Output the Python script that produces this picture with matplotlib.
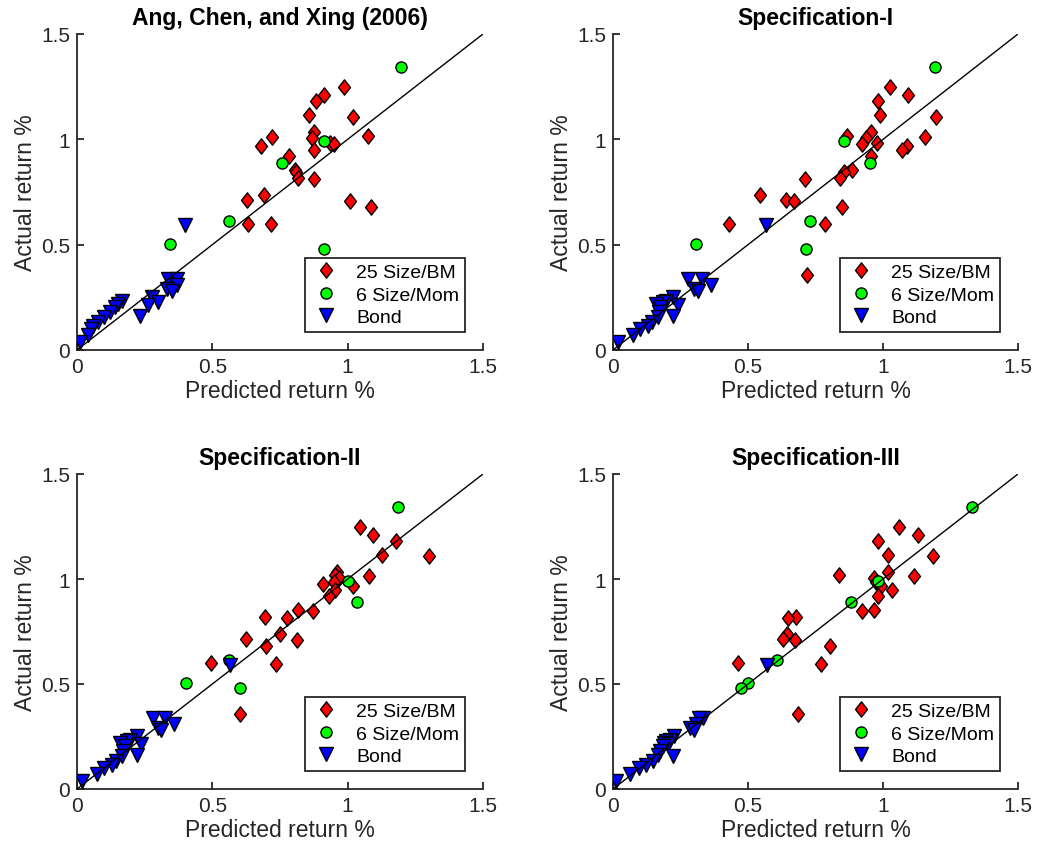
import matplotlib
matplotlib.use("Agg")
import matplotlib.pyplot as plt
from matplotlib.path import Path

plt.rcParams['font.family'] = ['Liberation Sans', 'DejaVu Sans']

# ---------------- data ----------------
TITLES = ["Ang, Chen, and Xing (2006)", "Specification-I", "Specification-II", "Specification-III"]
SERIES_LABELS = ["25 Size/BM", "6 Size/Mom", "Bond"]
XLABEL = "Predicted return %"
YLABEL = "Actual return %"
TICKS = [0, 0.5, 1, 1.5]
TICK_LABELS = ["0", "0.5", "1", "1.5"]

# actual returns (same in every panel)
ACT_BM = [1.248, 1.211, 1.183, 1.116, 1.108, 1.033, 1.017, 1.013, 1.005, 0.984, 0.976, 0.968, 0.949,
          0.920, 0.854, 0.846, 0.817, 0.814, 0.738, 0.714, 0.708, 0.679, 0.599, 0.596, 0.355]
ACT_MOM = [1.342, 0.992, 0.890, 0.612, 0.504, 0.480]
ACT_BOND = [0.592, 0.338, 0.336, 0.309, 0.290, 0.282, 0.251, 0.234, 0.227, 0.219, 0.213, 0.203,
            0.180, 0.160, 0.156, 0.132, 0.116, 0.098, 0.070, 0.036]

# predicted returns per panel
PRED_BM_ACX = [0.988, 0.911, 0.883, 0.856, 1.019, 0.877, 1.074, 0.720, 0.868, 0.933, 0.951, 0.680, 0.877,
               0.785, 0.804, 0.808, 0.816, 0.877, 0.691, 0.627, 1.010, 1.088, 0.633, 0.716, 1.050]
PRED_BM_S1 = [1.026, 1.091, 0.980, 0.989, 1.195, 0.956, 0.868, 1.156, 0.936, 0.977, 0.921, 1.090, 1.072,
              0.956, 0.884, 0.857, 0.841, 0.711, 0.546, 0.639, 0.670, 0.847, 0.429, 0.785, 0.719]
PRED_BM_S2 = [1.046, 1.095, 1.177, 1.126, 1.300, 0.960, 0.955, 1.080, 0.967, 0.950, 0.910, 1.021, 0.954,
              0.932, 0.817, 0.873, 0.693, 0.775, 0.750, 0.623, 0.812, 0.700, 0.495, 0.734, 0.604]
PRED_BM_S3 = [1.061, 1.131, 0.981, 1.017, 1.187, 1.020, 0.836, 1.116, 0.968, 0.975, 0.985, 0.993, 1.035,
              0.980, 0.968, 0.923, 0.677, 0.649, 0.645, 0.630, 0.674, 0.803, 0.464, 0.770, 0.684]

PRED_MOM_ACX = [1.198, 0.914, 0.759, 0.562, 0.343, 0.914]
PRED_MOM_S1 = [1.193, 0.857, 0.952, 0.729, 0.309, 0.714]
PRED_MOM_S2 = [1.186, 1.000, 1.033, 0.563, 0.403, 0.601]
PRED_MOM_S3 = [1.329, 0.983, 0.880, 0.606, 0.501, 0.473]

PRED_BOND_ACX = [0.400, 0.338, 0.369, 0.369, 0.332, 0.351, 0.277, 0.165, 0.299, 0.152, 0.264, 0.141,
                 0.122, 0.233, 0.098, 0.079, 0.060, 0.050, 0.042, 0.011]
PRED_BOND_S1 = [0.565, 0.278, 0.328, 0.362, 0.301, 0.313, 0.223, 0.198, 0.185, 0.161, 0.239, 0.175,
                0.170, 0.223, 0.167, 0.145, 0.130, 0.099, 0.074, 0.019]
PRED_BOND_S2 = [0.567, 0.280, 0.325, 0.360, 0.300, 0.312, 0.222, 0.196, 0.185, 0.160, 0.238, 0.176,
                0.170, 0.222, 0.166, 0.145, 0.128, 0.098, 0.073, 0.018]
PRED_BOND_S3 = [0.571, 0.334, 0.320, 0.309, 0.284, 0.300, 0.225, 0.210, 0.198, 0.190, 0.205, 0.185,
                0.175, 0.167, 0.223, 0.148, 0.124, 0.097, 0.062, 0.012]

PRED_BM = [PRED_BM_ACX, PRED_BM_S1, PRED_BM_S2, PRED_BM_S3]
PRED_MOM = [PRED_MOM_ACX, PRED_MOM_S1, PRED_MOM_S2, PRED_MOM_S3]
PRED_BOND = [PRED_BOND_ACX, PRED_BOND_S1, PRED_BOND_S2, PRED_BOND_S3]

# ---------------- style ----------------
W, H = 1038, 854
DPI = 100
AX_GRAY = '#262626'
diamond = Path([(0, 1), (0.78, 0), (0, -1), (-0.78, 0), (0, 1)],
               [Path.MOVETO, Path.LINETO, Path.LINETO, Path.LINETO, Path.CLOSEPOLY])

fig = plt.figure(figsize=(W / DPI, H / DPI), dpi=DPI)
# axes rectangles in pixels: left, top, right, bottom
RECTS = [(77, 35, 483, 351), (613, 35, 1018, 351), (77, 475, 483, 790), (613, 475, 1018, 790)]

for i, (l, t, r, b) in enumerate(RECTS):
    ax = fig.add_axes([l / W, 1 - b / H, (r - l) / W, (b - t) / H])
    ax.plot(PRED_BM[i], ACT_BM, linestyle='none', marker=diamond, markersize=11,
            markerfacecolor='#FF0000', markeredgecolor='black', markeredgewidth=1.0,
            label=SERIES_LABELS[0], zorder=2)
    ax.plot(PRED_MOM[i], ACT_MOM, linestyle='none', marker='o', markersize=8,
            markerfacecolor='#00FF00', markeredgecolor='black', markeredgewidth=1.0,
            label=SERIES_LABELS[1], zorder=3)
    ax.plot(PRED_BOND[i], ACT_BOND, linestyle='none', marker='v', markersize=9.5,
            markerfacecolor='#0000FF', markeredgecolor='black', markeredgewidth=1.0,
            label=SERIES_LABELS[2], zorder=4)
    ax.plot([TICKS[0], TICKS[-1]], [TICKS[0], TICKS[-1]], color='black', linewidth=1.0, zorder=5)

    ax.set_xlim(TICKS[0], TICKS[-1])
    ax.set_ylim(TICKS[0], TICKS[-1])
    ax.set_xticks(TICKS)
    ax.set_xticklabels(TICK_LABELS)
    ax.set_yticks(TICKS)
    ax.set_yticklabels(TICK_LABELS)
    for s in ['top', 'right']:
        ax.spines[s].set_visible(False)
    for s in ['left', 'bottom']:
        ax.spines[s].set_color(AX_GRAY)
        ax.spines[s].set_linewidth(1.3)
    ax.tick_params(direction='in', length=5, width=1.3, color=AX_GRAY, labelcolor=AX_GRAY,
                   labelsize=15, pad=5)
    ax.set_xlabel(XLABEL, fontsize=16.5, color=AX_GRAY, labelpad=2)
    ax.set_ylabel(YLABEL, fontsize=16.5, color=AX_GRAY, labelpad=3)
    ax.set_title(TITLES[i], fontsize=16.5, fontweight='bold', color='black', pad=7)
    leg = ax.legend(loc='lower right', bbox_to_anchor=(0.956, 0.057), fontsize=14,
                    frameon=True, fancybox=False, framealpha=1, edgecolor=AX_GRAY,
                    handlelength=1.6, handletextpad=0.75, borderpad=0.3, labelspacing=0.25,
                    borderaxespad=0)
    leg.get_frame().set_linewidth(1.3)
    leg.set_zorder(10)
    for txt in leg.get_texts():
        txt.set_color('black')

fig.savefig('out.png', dpi=DPI)
